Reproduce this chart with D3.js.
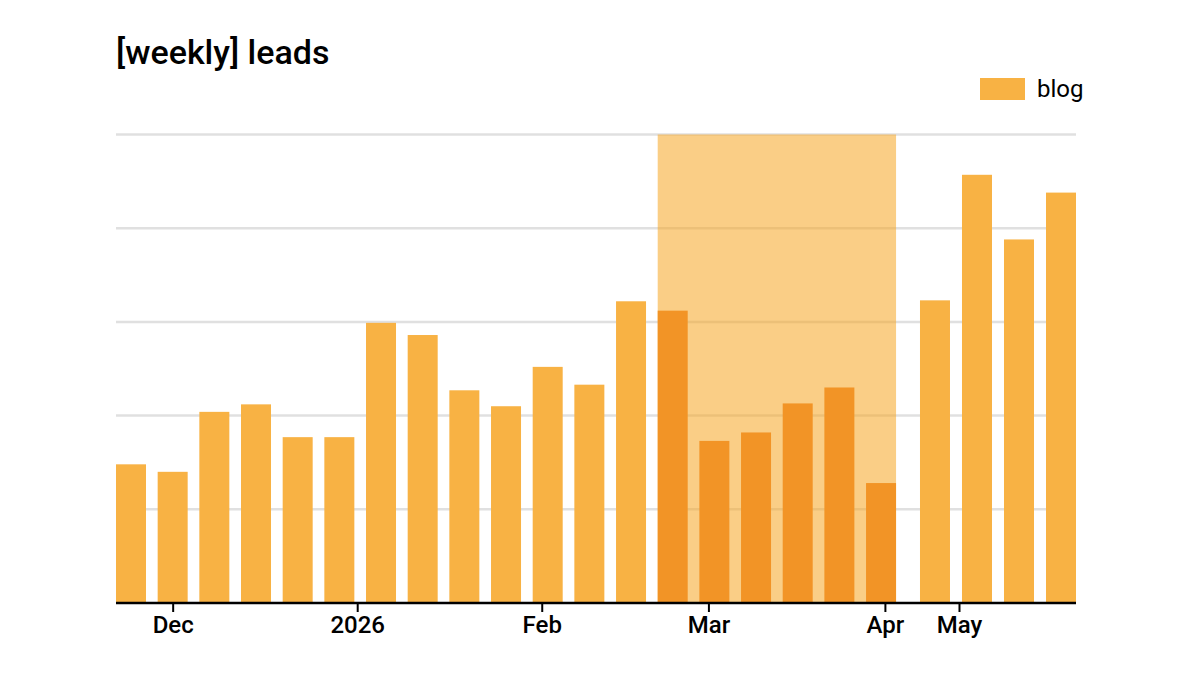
<!DOCTYPE html>
<html>
<head>
<meta charset="utf-8">
<script src="https://cdn.jsdelivr.net/npm/d3@7"></script>
<style>
  body { margin: 0; background: #ffffff; }
  svg { display: block; font-family: Roboto, "Noto Sans", sans-serif; }
</style>
</head>
<body>
<div id="chart"></div>
<script>
// weekly buckets (week starting monday)
const weeks = [
  "2025-11-24", "2025-12-01", "2025-12-08", "2025-12-15", "2025-12-22", "2025-12-29",
  "2026-01-05", "2026-01-12", "2026-01-19", "2026-01-26", "2026-02-02", "2026-02-09",
  "2026-02-16", "2026-02-23", "2026-03-02", "2026-03-09", "2026-03-16", "2026-03-23",
  "2026-03-30", "2026-04-27", "2026-05-04", "2026-05-11", "2026-05-18"
];
const blogLeads = [
  14.8, 14.0, 20.4, 21.2, 17.7, 17.7,
  29.9, 28.6, 22.7, 21.0, 25.2, 23.3,
  32.2, 31.2, 17.3, 18.2, 21.3, 23.0,
  12.8, 32.3, 45.7, 38.8, 43.8
];
const highlightRange = ["2026-02-23", "2026-03-30"];
const tickDates = ["2025-12-01", "2026-01-01", "2026-02-01", "2026-03-01", "2026-04-01", "2026-05-01"];
const yTicks = [0, 10, 20, 30, 40, 50];

const parse = d3.timeParse("%Y-%m-%d");

const width = 1200;
const height = 675;
const margin = { top: 134.5, right: 124, bottom: 72, left: 116 };
const barWidth = 30;

const svg = d3.select("#chart")
  .append("svg")
  .attr("width", width)
  .attr("height", height);

/* ---------- scales ---------- */

// the empty weeks in april are squeezed, so the time axis is piecewise
const left = margin.left + barWidth / 2;
const right = width - margin.right - barWidth / 2;
const x = d3.scaleTime()
  .domain([parse(weeks[0]), parse(weeks[18]), parse(weeks[19]), parse(weeks[22])])
  .range([left, left + (right - left) * 0.8065, left + (right - left) * 0.8645, right]);

const y = d3.scaleLinear()
  .domain([0, 50])
  .range([height - margin.bottom, margin.top]);

const hlStart = parse(highlightRange[0]);
const hlEnd = parse(highlightRange[1]);

/* ---------- grid ---------- */

svg.append("g")
  .selectAll("line")
  .data(yTicks.slice(1))
  .join("line")
  .attr("x1", margin.left)
  .attr("x2", width - margin.right)
  .attr("y1", (d) => y(d))
  .attr("y2", (d) => y(d))
  .attr("stroke", "#e0e0e0")
  .attr("stroke-width", 2.5);

/* ---------- highlighted period ---------- */

svg.append("rect")
  .attr("x", x(hlStart) - barWidth / 2)
  .attr("y", y(50))
  .attr("width", x(hlEnd) - x(hlStart) + barWidth)
  .attr("height", y(0) - y(50))
  .attr("fill", "#f5a623")
  .attr("fill-opacity", 0.55);

/* ---------- bars ---------- */

const data = weeks.map((w, i) => ({ date: parse(w), value: blogLeads[i] }));

svg.append("g")
  .selectAll("rect")
  .data(data)
  .join("rect")
  .attr("x", (d) => x(d.date) - barWidth / 2)
  .attr("y", (d) => y(d.value))
  .attr("width", barWidth)
  .attr("height", (d) => y(0) - y(d.value))
  .attr("fill", (d) => (d.date >= hlStart && d.date <= hlEnd ? "#f29426" : "#f8b244"));

/* ---------- x axis ---------- */

const xAxis = d3.axisBottom(x)
  .tickValues(tickDates.map(parse))
  .tickFormat((d) => (d.getMonth() === 0 ? d3.timeFormat("%Y")(d) : d3.timeFormat("%b")(d)))
  .tickSizeInner(9)
  .tickSizeOuter(0)
  .tickPadding(4);

const gx = svg.append("g")
  .attr("transform", `translate(0,${y(0)})`)
  .call(xAxis);

gx.select(".domain").remove();
gx.append("line")
  .attr("x1", margin.left)
  .attr("x2", width - margin.right)
  .attr("stroke", "#000")
  .attr("stroke-width", 2.5);
gx.selectAll(".tick line").attr("stroke", "#000").attr("stroke-width", 2);
gx.selectAll(".tick text")
  .attr("fill", "#000")
  .style("font-size", "24px")
  .style("font-weight", 500)
  .style("font-family", "Roboto, sans-serif");

/* ---------- title & legend ---------- */

svg.append("text")
  .attr("x", margin.left)
  .attr("y", 64)
  .attr("fill", "#000")
  .style("font-size", "34px")
  .style("font-weight", 500)
  .text("[weekly] leads");

const legend = svg.append("g").attr("transform", "translate(980,78)");
legend.append("rect")
  .attr("width", 45)
  .attr("height", 22)
  .attr("fill", "#f8b244");
legend.append("text")
  .attr("x", 57)
  .attr("y", 19)
  .attr("fill", "#000")
  .style("font-size", "24px")
  .style("font-weight", 400)
  .text("blog");
</script>
</body>
</html>
